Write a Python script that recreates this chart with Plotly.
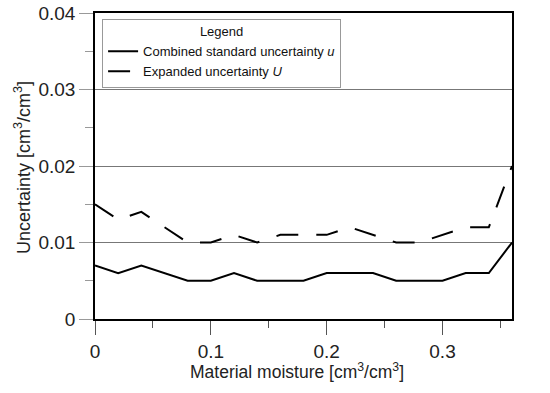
import plotly.graph_objects as go

moisture = [0.00, 0.02, 0.04, 0.06, 0.08, 0.10, 0.12, 0.14, 0.16, 0.18,
            0.20, 0.22, 0.24, 0.26, 0.28, 0.30, 0.32, 0.34, 0.36]
u_combined = [0.007, 0.006, 0.007, 0.006, 0.005, 0.005, 0.006, 0.005, 0.005, 0.005,
              0.006, 0.006, 0.006, 0.005, 0.005, 0.005, 0.006, 0.006, 0.010]
U_expanded = [0.015, 0.013, 0.014, 0.012, 0.010, 0.010, 0.011, 0.010, 0.011, 0.011,
              0.011, 0.012, 0.011, 0.010, 0.010, 0.011, 0.012, 0.012, 0.020]
x_ticks = [0, 0.1, 0.2, 0.3]
x_tick_labels = ["0", "0.1", "0.2", "0.3"]
y_ticks = [0, 0.01, 0.02, 0.03, 0.04]
y_tick_labels = ["0", "0.01", "0.02", "0.03", "0.04"]
x_title = "Material moisture [cm<sup>3</sup>/cm<sup>3</sup>]"
y_title = "Uncertainty [cm<sup>3</sup>/cm<sup>3</sup>]"

font = "Liberation Sans, Arial, sans-serif"

fig = go.Figure()
fig.add_trace(go.Scatter(x=moisture, y=u_combined, mode="lines",
                         name="Combined standard uncertainty <i>u</i>",
                         line=dict(color="black", width=2)))
fig.add_trace(go.Scatter(x=moisture, y=U_expanded, mode="lines",
                         name="Expanded uncertainty <i>U</i>",
                         line=dict(color="black", width=2, dash="22px,18px")))

fig.update_layout(
    width=550, height=393,
    margin=dict(l=95, r=38, t=13, b=74, autoexpand=False),
    paper_bgcolor="white", plot_bgcolor="white",
    font=dict(family=font, color="#222"),
    showlegend=True,
    legend=dict(
        x=0.017, y=0.982, xanchor="left", yanchor="top",
        bgcolor="white", bordercolor="#999", borderwidth=1,
        font=dict(size=13, family=font, color="#111"),
        title=dict(text="Legend", side="top center", font=dict(size=13)),
        tracegroupgap=0,
    ),
    xaxis=dict(
        range=[0, 0.36], automargin=False,
        tickvals=x_ticks, ticktext=x_tick_labels,
        ticks="outside", ticklen=14, tickcolor="#555", tickwidth=1,
        minor=dict(dtick=0.05, tick0=0, ticks="outside", ticklen=7, tickcolor="#555", showgrid=False),
        showgrid=False, zeroline=False,
        showline=True, linecolor="black", linewidth=1.5, mirror=True,
        tickfont=dict(size=19, family=font, color="#222"),
    ),
    yaxis=dict(
        range=[0, 0.04], automargin=False, ticklabeloverflow="allow",
        tickvals=y_ticks, ticktext=y_tick_labels,
        ticks="outside", ticklen=14, tickcolor="#999", tickwidth=1,
        minor=dict(dtick=0.005, tick0=0, ticks="outside", ticklen=8, tickcolor="#999", showgrid=False),
        showgrid=True, gridcolor="#777", gridwidth=1,
        zeroline=False,
        showline=True, linecolor="black", linewidth=1.5, mirror=True,
        tickfont=dict(size=19, family=font, color="#222"),
    ),
    annotations=[
        dict(text=x_title, xref="paper", yref="paper", x=0.485, y=0,
             xanchor="center", yanchor="middle", yshift=-52, showarrow=False,
             font=dict(size=17.5, family=font, color="#222")),
        dict(text=y_title, xref="paper", yref="paper", x=0, y=0.5,
             xanchor="center", yanchor="middle", xshift=-73, yshift=-2, textangle=-90,
             showarrow=False, font=dict(size=18, family=font, color="#222")),
    ],
)

# remove the browser's default 8px body margin so the figure fills the window
fig.write_html("out.html", config={"displayModeBar": False},
               post_script="document.body.style.margin='0';")
